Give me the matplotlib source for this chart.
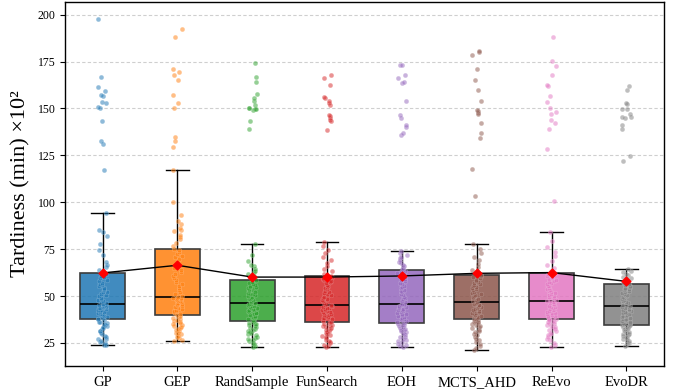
import numpy as np
import matplotlib
matplotlib.use("Agg")
import matplotlib.pyplot as plt
from matplotlib.colors import to_rgba

plt.rcParams['font.family'] = ['Liberation Serif', 'DejaVu Serif']

methods = ["GP", "GEP", "RandSample", "FunSearch", "EOH", "MCTS_AHD", "ReEvo", "EvoDR"]
colors = ["#1f77b4", "#ff7f0e", "#2ca02c", "#d62728", "#9467bd", "#8c564b", "#e377c2", "#7f7f7f"]

# box statistics (x100 min)
whislo = [23.7, 26.1, 23.0, 22.9, 22.6, 21.0, 22.9, 23.6]
q1 = [37.8, 40.0, 36.8, 36.0, 35.7, 38.0, 38.0, 34.6]
med = [45.9, 49.4, 46.4, 45.3, 46.0, 46.6, 47.5, 44.8]
q3 = [62.5, 75.3, 58.3, 60.7, 63.9, 61.2, 62.1, 56.2]
whishi = [94.2, 117.2, 77.5, 78.9, 74.0, 77.5, 84.4, 64.6]
means = [62.3, 66.4, 60.1, 60.1, 60.7, 62.1, 62.5, 57.8]

# individual instance values
gp_vals = [23.7, 24.1, 24.9, 25.6, 26.2, 26.9, 27.3, 28.0, 28.6, 29.8, 30.4, 31.1, 31.5, 32.2, 32.9, 33.6, 34.1,
           34.5, 35.2, 35.6, 36.1, 36.4, 37.0, 37.5, 37.8,
           38.2, 38.7, 39.0, 39.4, 39.9, 40.3, 40.6, 41.0, 41.4, 41.7, 42.1, 42.3, 42.8, 43.0, 43.4, 43.7, 44.0,
           44.2, 44.6, 44.8, 45.0, 45.3, 45.6, 45.9,
           46.3, 46.8, 47.5, 48.1, 48.4, 49.2, 49.8, 50.5, 51.0, 51.9, 52.4, 53.0, 53.8, 54.5, 55.1, 55.7, 56.6,
           57.2, 58.0, 58.7, 59.5, 60.1, 60.9, 61.6, 62.4,
           64.1, 65.4, 66.4, 68.1, 71.7, 74.4, 78.0, 81.9, 83.9, 85.1, 94.2,
           117.2, 130.9, 132.5, 143.3, 150.4, 150.6, 152.9, 153.6, 156.8, 157.2, 159.2, 161.7, 167.0, 197.9]
gep_vals = [26.1, 26.8, 27.5, 28.0, 28.9, 29.6, 30.1, 30.5, 31.2, 31.9, 32.3, 32.8, 33.4, 33.9, 34.6, 35.0, 35.5,
            36.1, 36.7, 37.2, 37.8, 38.3, 38.9, 39.4, 40.0,
            40.4, 40.9, 41.3, 41.8, 42.2, 42.7, 43.0, 43.5, 43.9, 44.4, 44.8, 45.1, 45.6, 46.0, 46.3, 46.8, 47.1,
            47.5, 47.9, 48.2, 48.5, 48.8, 49.0, 49.2, 49.4,
            50.2, 51.0, 52.1, 53.0, 54.2, 55.1, 56.3, 57.4, 58.5, 59.6, 60.8, 61.7, 62.9, 64.0, 65.2, 66.3, 67.1,
            68.4, 69.5, 70.6, 71.4, 72.3, 73.5, 74.4, 75.3,
            76.8, 78.5, 80.2, 81.4, 82.6, 84.6, 85.3, 86.5, 88.3, 90.1, 93.0, 100.1, 117.2,
            129.3, 132.5, 134.9, 150.4, 153.1, 157.2, 165.4, 167.6, 169.7, 171.3, 188.1, 192.2]
rand_vals = [23.0, 23.6, 24.4, 25.1, 25.9, 26.3, 27.0, 27.8, 28.4, 29.1, 29.7, 30.2, 30.8, 31.5, 31.9, 32.4, 33.0,
             33.5, 34.0, 34.4, 34.9, 35.3, 35.8, 36.3, 36.8,
             37.2, 37.7, 38.1, 38.6, 39.0, 39.5, 39.9, 40.3, 40.8, 41.2, 41.6, 42.0, 42.3, 42.7, 43.1, 43.4, 43.8,
             44.2, 44.5, 44.8, 45.2, 45.5, 45.8, 46.1, 46.4,
             46.8, 47.3, 47.7, 48.2, 48.6, 49.0, 49.5, 49.9, 50.4, 50.9, 51.3, 51.8, 52.3, 52.7, 53.2, 53.7, 54.1,
             54.6, 55.0, 55.5, 56.1, 56.6, 57.2, 57.7, 58.3,
             59.4, 60.7, 61.9, 62.8, 63.5, 64.6, 65.9, 66.8, 68.7, 72.1, 77.5,
             139.2, 143.3, 149.4, 149.5, 149.6, 150.2, 150.4, 152.0, 154.0, 155.6, 157.7, 164.1, 167.0, 174.5]
fun_vals = [22.9, 23.5, 24.0, 24.8, 25.5, 26.1, 26.7, 27.4, 28.0, 28.5, 29.2, 29.8, 30.3, 30.9, 31.4, 31.9, 32.4,
            32.9, 33.3, 33.8, 34.2, 34.6, 35.1, 35.6, 36.0,
            36.4, 36.8, 37.3, 37.7, 38.1, 38.5, 38.9, 39.3, 39.7, 40.1, 40.5, 40.9, 41.3, 41.7, 42.0, 42.4, 42.8,
            43.1, 43.5, 43.8, 44.2, 44.5, 44.8, 45.0, 45.3,
            45.9, 46.5, 47.2, 47.8, 48.4, 49.1, 49.7, 50.3, 51.0, 51.6, 52.2, 52.9, 53.5, 54.1, 54.8, 55.4, 56.0,
            56.7, 57.3, 57.9, 58.5, 59.1, 59.7, 60.2, 60.7,
            61.9, 63.2, 64.5, 65.8, 67.4, 69.3, 71.0, 72.8, 74.6, 76.5, 78.9,
            138.7, 143.3, 144.0, 145.1, 145.8, 146.5, 152.0, 153.1, 154.2, 155.4, 156.3, 162.4, 166.0, 168.1]
eoh_vals = [22.6, 23.3, 24.1, 24.6, 25.4, 26.0, 26.5, 27.3, 27.9, 28.4, 29.0, 29.6, 30.1, 30.6, 31.2, 31.7, 32.1,
            32.6, 33.0, 33.5, 33.9, 34.4, 34.8, 35.3, 35.7,
            36.1, 36.6, 37.0, 37.5, 37.9, 38.4, 38.8, 39.3, 39.7, 40.2, 40.6, 41.0, 41.5, 41.9, 42.3, 42.7, 43.1,
            43.5, 43.9, 44.3, 44.7, 45.0, 45.4, 45.7, 46.0,
            46.7, 47.5, 48.2, 48.9, 49.7, 50.4, 51.1, 51.9, 52.6, 53.4, 54.1, 54.8, 55.6, 56.3, 57.1, 57.8, 58.6,
            59.3, 60.0, 60.8, 61.5, 62.2, 62.8, 63.4, 63.9,
            64.5, 65.2, 65.9, 66.7, 67.4, 68.3, 69.1, 70.2, 71.0, 72.1, 73.2, 74.0,
            136.0, 136.9, 140.3, 141.1, 144.7, 146.5, 154.0, 163.4, 164.3, 166.5, 167.6, 173.2, 173.4]
mcts_vals = [21.0, 22.1, 23.4, 24.5, 25.6, 26.4, 27.3, 28.2, 29.0, 29.8, 30.6, 31.3, 32.0, 32.7, 33.3, 33.9, 34.5,
             35.0, 35.5, 36.0, 36.4, 36.9, 37.3, 37.7, 38.0,
             38.4, 38.7, 39.1, 39.4, 39.8, 40.1, 40.5, 40.8, 41.2, 41.5, 41.9, 42.2, 42.6, 42.9, 43.3, 43.6, 44.0,
             44.3, 44.7, 45.0, 45.4, 45.7, 46.0, 46.3, 46.6,
             47.2, 47.8, 48.4, 48.9, 49.5, 50.1, 50.7, 51.3, 51.8, 52.4, 53.0, 53.6, 54.2, 54.7, 55.3, 55.9, 56.5,
             57.1, 57.6, 58.2, 58.8, 59.4, 60.0, 60.6, 61.2,
             62.5, 64.0, 65.6, 67.3, 69.1, 71.0, 72.9, 75.1, 77.5,
             103.3, 117.8, 134.4, 136.8, 142.4, 146.8, 147.7, 148.5, 149.4, 154.0, 159.7, 165.0, 171.3, 178.3,
             179.9, 180.6]
reevo_vals = [22.9, 24.0, 25.1, 26.3, 27.2, 28.1, 29.0, 29.8, 30.5, 31.2, 31.8, 32.5, 33.1, 33.6, 34.1, 34.6, 35.0,
              35.4, 35.9, 36.3, 36.7, 37.0, 37.4, 37.7, 38.0,
              38.4, 38.8, 39.2, 39.6, 40.0, 40.4, 40.8, 41.2, 41.6, 42.0, 42.4, 42.8, 43.2, 43.6, 44.0, 44.4, 44.8,
              45.2, 45.6, 45.9, 46.3, 46.6, 46.9, 47.2, 47.5,
              48.1, 48.7, 49.3, 49.8, 50.4, 51.0, 51.6, 52.2, 52.7, 53.3, 53.9, 54.5, 55.1, 55.6, 56.2, 56.8, 57.4,
              58.0, 58.5, 59.1, 59.7, 60.3, 60.9, 61.5, 62.1,
              63.4, 65.0, 66.8, 68.9, 71.2, 73.6, 76.3, 79.5, 84.4,
              100.8, 128.5, 138.8, 142.2, 143.8, 147.2, 148.3, 150.4, 153.6, 156.5, 162.2, 162.7, 167.7, 172.4,
              175.4, 188.2]
evodr_vals = [23.6, 24.2, 24.9, 25.4, 26.0, 26.5, 27.1, 27.6, 28.1, 28.6, 29.1, 29.6, 30.0, 30.5, 30.9, 31.3, 31.8,
              32.2, 32.6, 32.9, 33.3, 33.6, 34.0, 34.3, 34.6,
              35.0, 35.4, 35.8, 36.3, 36.7, 37.1, 37.5, 37.9, 38.4, 38.8, 39.2, 39.6, 40.0, 40.4, 40.8, 41.2, 41.6,
              42.0, 42.4, 42.8, 43.2, 43.6, 44.0, 44.4, 44.8,
              45.3, 45.7, 46.2, 46.6, 47.1, 47.5, 48.0, 48.4, 48.9, 49.4, 49.8, 50.3, 50.7, 51.2, 51.6, 52.1, 52.5,
              53.0, 53.5, 53.9, 54.4, 54.8, 55.3, 55.7, 56.2,
              56.9, 57.6, 58.3, 59.0, 59.6, 60.3, 61.1, 61.8, 62.6, 63.5, 64.6,
              122.2, 124.5, 138.8, 141.0, 144.7, 145.2, 145.6, 147.2, 149.5, 149.9, 152.4, 153.1, 159.7, 162.2]
values = [gp_vals, gep_vals, rand_vals, fun_vals, eoh_vals, mcts_vals, reevo_vals, evodr_vals]

fig = plt.figure(figsize=(6.78, 3.91), dpi=100)
ax = fig.add_axes([0.096, 0.064, 0.883, 0.931])
pos = np.arange(len(methods))

ax.yaxis.grid(True, linestyle=(0, (3, 2)), color='#cfcfcf', linewidth=0.8)
ax.set_axisbelow(True)

stats = [dict(label=m, whislo=a, q1=b, med=c, q3=d, whishi=e, fliers=[])
         for m, a, b, c, d, e in zip(methods, whislo, q1, med, q3, whishi)]
bp = ax.bxp(stats, positions=pos, widths=0.6, patch_artist=True, showfliers=False,
            boxprops=dict(edgecolor='#3c3c3c', linewidth=1.2),
            whiskerprops=dict(color='black', linewidth=1.0),
            capprops=dict(color='black', linewidth=1.0),
            medianprops=dict(color='black', linewidth=1.2))
for patch, c in zip(bp['boxes'], colors):
    patch.set_facecolor(to_rgba(c, 0.85))
    patch.set_zorder(2)

rng = np.random.default_rng(7)
for i, (vals, c) in enumerate(zip(values, colors)):
    y = np.array(vals)
    x = i + rng.uniform(-0.065, 0.065, len(y))
    ax.scatter(x, y, s=12, color=c, alpha=0.5, edgecolors=(1, 1, 1, 0.5), linewidths=0.2, zorder=3)

ax.plot(pos, means, color='black', linewidth=1.0, zorder=4)
ax.scatter(pos, means, marker='D', color='red', s=20, zorder=5)

ax.set_xlim(-0.5, 7.5)
ax.set_ylim(12.7, 206.8)
ax.set_yticks([25, 50, 75, 100, 125, 150, 175, 200])
ax.set_xticks(pos)
ax.set_xticklabels(methods, fontsize=10.5)
ax.tick_params(axis='y', labelsize=8.5)
ax.set_ylabel('Tardiness (min) ×10²', fontsize=16, labelpad=5)
for s in ax.spines.values():
    s.set_color('black')
    s.set_linewidth(1.0)

fig.savefig('out.png', dpi=100)
